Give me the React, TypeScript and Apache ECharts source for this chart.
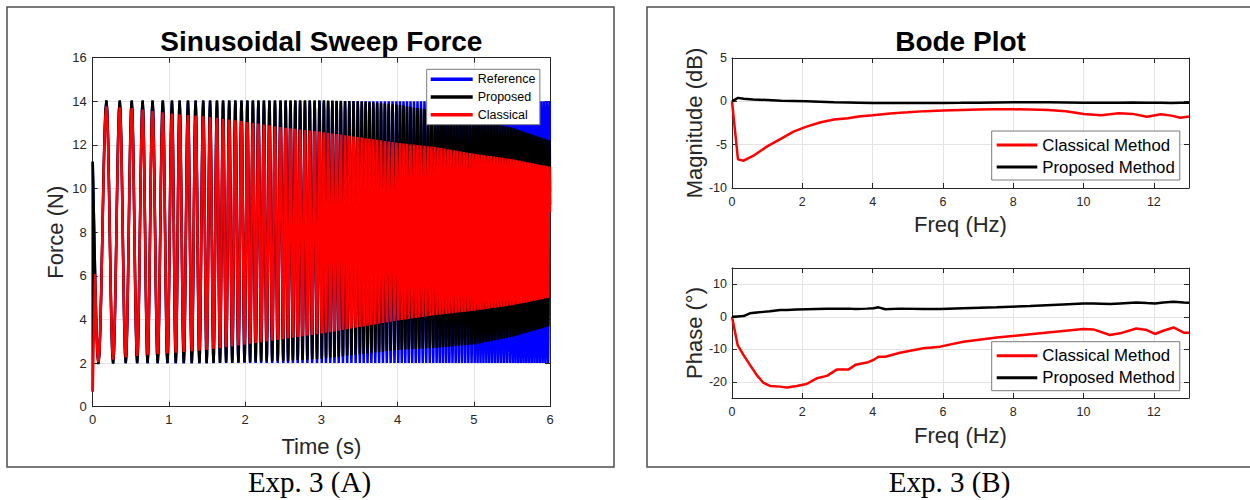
import React, { useEffect, useRef } from 'react';
import * as echarts from 'echarts';

const FONT = "'Liberation Sans', Arial, Helvetica, sans-serif";
const SERIF = "'Liberation Serif', 'Times New Roman', serif";
const INK = '#262626';

// ---------- Left panel: sinusoidal sweep force ----------
// envelope knots (time in s)
const envTime = [0, 0.5, 1, 1.5, 2, 2.5, 3, 3.5, 4, 4.5, 5, 5.5, 6];
const referenceUpper = [14, 14, 14, 14, 14, 14, 14, 14, 14, 14, 14, 14, 14];
const referenceLower = [2, 2, 2, 2, 2, 2, 2, 2, 2, 2, 2, 2, 2];
const proposedUpper = [14.05, 14.05, 14.05, 14.05, 14.05, 14.05, 14.05, 14.0, 13.85, 13.55, 13.15, 12.8, 12.2];
const proposedLower = [1.95, 2.0, 2.0, 2.0, 2.05, 2.1, 2.2, 2.4, 2.6, 2.7, 2.85, 3.2, 3.7];
const classicalUpper = [13.8, 13.7, 13.45, 13.3, 13.07, 12.8, 12.6, 12.35, 12.1, 11.9, 11.6, 11.35, 11.0];
const classicalLower = [2.0, 2.3, 2.45, 2.6, 2.85, 3.1, 3.35, 3.65, 3.95, 4.2, 4.4, 4.65, 5.0];
// cycle count (peaks at whole numbers) versus time, read from the peak positions
const peakTime = [0, 0.075, 0.18, 0.355, 0.512, 0.655, 0.785, 0.92, 1.04, 1.14, 1.25, 1.35, 1.45, 1.54, 1.63, 2, 2.5, 3, 3.5, 4, 4.5, 5, 5.5, 6];
const peakCount = [0.16, 0.5, 1, 2, 3, 4, 5, 6, 7, 8, 9, 10, 11, 12, 13, 17.6, 24.5, 32.4, 41.4, 51.3, 62.2, 74.2, 87.2, 101.2];
// start-up transients
const proposedStart = [[0, 0.7]];
const classicalStart = [[0, 0.7]];
const classicalStartCount = 0.3;

// ---------- Right panel: Bode plot ----------
const magFreq = [0, 0.17, 0.33, 0.6, 1.0, 1.4, 1.75, 2.1, 2.5, 2.9, 3.3, 3.6, 4.0, 4.5, 5.0, 5.5, 6.0, 6.5, 7.0, 7.5, 8.0, 8.5, 9.0, 9.5, 10.0, 10.5, 11.0, 11.4, 11.8, 12.2, 12.5, 12.75, 13.0];
const magClassical = [0, -6.7, -6.85, -6.3, -5.2, -4.3, -3.5, -2.95, -2.45, -2.1, -1.95, -1.75, -1.6, -1.4, -1.27, -1.13, -1.05, -1.0, -0.95, -0.92, -0.92, -0.95, -1.0, -1.15, -1.45, -1.6, -1.38, -1.45, -1.78, -1.5, -1.65, -1.9, -1.75];
const magProposed = [0, 0.4, 0.3, 0.22, 0.15, 0.08, 0.04, 0.0, -0.05, -0.1, -0.13, -0.15, -0.18, -0.2, -0.2, -0.19, -0.18, -0.17, -0.15, -0.13, -0.12, -0.12, -0.12, -0.13, -0.15, -0.15, -0.15, -0.14, -0.15, -0.16, -0.2, -0.17, -0.15];

const phaseFreq = [0, 0.16, 0.33, 0.51, 0.7, 0.89, 1.08, 1.37, 1.56, 1.84, 2.12, 2.41, 2.7, 2.99, 3.32, 3.51, 3.84, 4.02, 4.17, 4.36, 4.78, 5.44, 5.92, 6.58, 7.53, 8.48, 9.42, 9.99, 10.28, 10.75, 11.04, 11.5, 11.8, 12.03, 12.27, 12.56, 12.85, 13.0];
const phaseClassical = [0, -8.7, -11.8, -14.8, -17.9, -20.3, -21.3, -21.5, -21.8, -21.3, -20.7, -18.95, -18.2, -16.2, -16.2, -14.8, -14.1, -13.3, -12.3, -12.3, -11.1, -9.7, -9.2, -7.7, -6.4, -5.4, -4.4, -3.8, -3.9, -5.6, -5.1, -3.6, -4.1, -5.3, -4.3, -3.3, -4.9, -4.9];
const phaseProposed = [0, 0.1, 0.2, 1.05, 1.3, 1.5, 1.7, 2.1, 2.1, 2.2, 2.3, 2.4, 2.45, 2.5, 2.5, 2.4, 2.5, 2.6, 2.9, 2.3, 2.5, 2.4, 2.4, 2.6, 2.9, 3.3, 3.8, 4.1, 4.1, 3.9, 4.1, 4.4, 4.2, 4.1, 4.4, 4.6, 4.4, 4.3];

function interp(xs: number[], ys: number[], x: number): number {
  if (x <= xs[0]) return ys[0];
  for (let i = 1; i < xs.length; i++) {
    if (x <= xs[i]) {
      const f = (x - xs[i - 1]) / (xs[i] - xs[i - 1]);
      return ys[i - 1] + f * (ys[i] - ys[i - 1]);
    }
  }
  return ys[ys.length - 1];
}

function sweepLine(upper: number[], lower: number[], fromCount: number, start: number[][]): number[][] {
  const pts: number[][] = start.map((p) => p.slice());
  const last = peakCount[peakCount.length - 1];
  const per = 16;
  const push = (k: number) => {
    const t = interp(peakCount, peakTime, k);
    const up = interp(envTime, upper, t);
    const lo = interp(envTime, lower, t);
    pts.push([t, (up + lo) / 2 + ((up - lo) / 2) * Math.cos(2 * Math.PI * k)]);
  };
  push(fromCount);
  for (let j = Math.ceil(fromCount * per + 1e-6); j / per < last; j++) push(j / per);
  push(last);
  return pts;
}

const zip = (xs: number[], ys: number[]) => xs.map((x, i) => [x, ys[i]]);

const RED = '#ff0000';
const BLACK = '#000000';
const BLUE = '#0000ff';

function axisPair(gridIndex: number, opts: any) {
  const common = {
    type: 'value',
    gridIndex,
    min: opts.min,
    max: opts.max,
    interval: opts.interval,
    splitNumber: opts.splitNumber,
    axisLine: { show: true, onZero: false, lineStyle: { color: INK, width: 1 } },
    axisTick: { show: true, inside: true, length: 5, lineStyle: { color: INK, width: 1 } },
  };
  return [
    {
      ...common,
      position: opts.pos[0],
      axisLabel: {
        show: true,
        color: INK,
        fontSize: opts.labelSize,
        fontFamily: FONT,
        margin: opts.labelMargin,
        showMaxLabel: opts.showMax,
        showMinLabel: opts.showMin,
      },
      splitLine: { show: true, lineStyle: { color: '#e3e3e3', width: 1 } },
      name: opts.name,
      nameLocation: 'middle',
      nameGap: opts.nameGap,
      nameTextStyle: { color: INK, fontSize: 22, fontFamily: FONT },
    },
    {
      ...common,
      position: opts.pos[1],
      axisLabel: { show: false },
      splitLine: { show: false },
    },
  ];
}

function legendBox(data: string[], left: number, top: number, o: any) {
  return {
    data,
    left,
    top,
    orient: 'vertical',
    icon: 'rect',
    itemWidth: o.itemWidth,
    itemHeight: o.itemHeight,
    itemGap: 0,
    padding: o.padding,
    backgroundColor: '#ffffff',
    borderColor: '#7a7a7a',
    borderWidth: 1,
    borderRadius: 0,
    selectedMode: false,
    textStyle: { color: '#000', fontSize: o.fontSize, fontFamily: FONT, lineHeight: o.lineHeight },
  };
}

export default function App() {
  const ref = useRef<HTMLDivElement>(null);
  useEffect(() => {
    if (!ref.current) return;
    const chart = echarts.init(ref.current, undefined, { renderer: 'svg' });

    const [lx, lx2] = axisPair(0, { min: 0, max: 6, interval: 1, pos: ['bottom', 'top'], labelSize: 13, labelMargin: 6, name: 'Time (s)', nameGap: 29 });
    const [ly, ly2] = axisPair(0, { min: 0, max: 16, interval: 2, pos: ['left', 'right'], labelSize: 13, labelMargin: 6, name: 'Force (N)', nameGap: 26 });
    const [mx, mx2] = axisPair(1, { min: 0, max: 13, interval: 2, pos: ['bottom', 'top'], labelSize: 12.5, labelMargin: 7, showMax: false, name: 'Freq (Hz)', nameGap: 25 });
    const [my, my2] = axisPair(1, { min: -10, max: 5, interval: 5, pos: ['left', 'right'], labelSize: 12.5, labelMargin: 5, name: 'Magnitude (dB)', nameGap: 25 });
    const [px, px2] = axisPair(2, { min: 0, max: 13, interval: 2, pos: ['bottom', 'top'], labelSize: 12.5, labelMargin: 7, showMax: false, name: 'Freq (Hz)', nameGap: 26 });
    const [py, py2] = axisPair(2, { min: -25, max: 15, splitNumber: 4, pos: ['left', 'right'], labelSize: 12.5, labelMargin: 5, showMin: false, showMax: false, name: 'Phase (°)', nameGap: 25 });

    const lineSeries = (name: string, color: string, data: number[][], xi: number, yi: number, width: number) => ({
      type: 'line',
      name,
      data,
      xAxisIndex: xi,
      yAxisIndex: yi,
      showSymbol: false,
      symbol: 'none',
      silent: true,
      lineStyle: { color, width },
      itemStyle: { color },
      emphasis: { disabled: true },
    });

    chart.setOption({
      animation: false,
      backgroundColor: '#ffffff',
      grid: [
        { left: 92.7, top: 57.7, width: 457.3, height: 349, containLabel: false },
        { left: 732, top: 58, width: 457, height: 130, containLabel: false },
        { left: 732, top: 268, width: 457, height: 130, containLabel: false },
      ],
      xAxis: [lx, lx2, mx, mx2, px, px2],
      yAxis: [ly, ly2, my, my2, py, py2],
      legend: [
        legendBox(['Reference', 'Proposed', 'Classical'], 426.7, 69.3, { itemWidth: 42, itemHeight: 3.5, padding: [1, 4.5, 1, 4], fontSize: 12.5, lineHeight: 17.8 }),
        legendBox(['Classical Method', 'Proposed Method'], 991.7, 131, { itemWidth: 40.6, itemHeight: 3, padding: [3, 5, 2, 5], fontSize: 16.8, lineHeight: 22 }),
        legendBox(['Classical Method', 'Proposed Method'], 991.7, 341.7, { itemWidth: 40.6, itemHeight: 3, padding: [3, 5, 2, 5], fontSize: 16.8, lineHeight: 22 }),
      ],
      series: [
        lineSeries('Reference', BLUE, sweepLine(referenceUpper, referenceLower, peakCount[0], []), 0, 0, 2.5),
        lineSeries('Proposed', BLACK, sweepLine(proposedUpper, proposedLower, peakCount[0], proposedStart), 0, 0, 2.5),
        lineSeries('Classical', RED, sweepLine(classicalUpper, classicalLower, classicalStartCount, classicalStart), 0, 0, 2.5),
        lineSeries('Classical Method', RED, zip(magFreq, magClassical), 2, 2, 2.5),
        lineSeries('Proposed Method', BLACK, zip(magFreq, magProposed), 2, 2, 2.5),
        lineSeries('Classical Method', RED, zip(phaseFreq, phaseClassical), 4, 4, 2.5),
        lineSeries('Proposed Method', BLACK, zip(phaseFreq, phaseProposed), 4, 4, 2.5),
      ],
      graphic: [
        { type: 'rect', z: -1, shape: { x: 7, y: 7, width: 607, height: 460 }, style: { fill: 'none', stroke: '#4d4d4d', lineWidth: 1.5 } },
        { type: 'rect', z: -1, shape: { x: 647, y: 7, width: 610, height: 460 }, style: { fill: 'none', stroke: '#4d4d4d', lineWidth: 1.5 } },
        { type: 'text', x: 321.4, y: 41, style: { text: 'Sinusoidal Sweep Force', fontSize: 28, fontWeight: 'bold', fontFamily: FONT, fill: '#000', align: 'center', verticalAlign: 'middle' } },
        { type: 'text', x: 960.5, y: 41, style: { text: 'Bode Plot', fontSize: 28, fontWeight: 'bold', fontFamily: FONT, fill: '#000', align: 'center', verticalAlign: 'middle' } },
        { type: 'text', x: 309.5, y: 482, style: { text: 'Exp. 3 (A)', fontSize: 29, fontFamily: SERIF, fill: '#000', align: 'center', verticalAlign: 'middle' } },
        { type: 'text', x: 949.5, y: 482, style: { text: 'Exp. 3 (B)', fontSize: 29, fontFamily: SERIF, fill: '#000', align: 'center', verticalAlign: 'middle' } },
      ],
    });
    return () => chart.dispose();
  }, []);
  return <div ref={ref} style={{ position: 'fixed', left: 0, top: 0, width: 1250, height: 500, background: '#fff' }} />;
}
